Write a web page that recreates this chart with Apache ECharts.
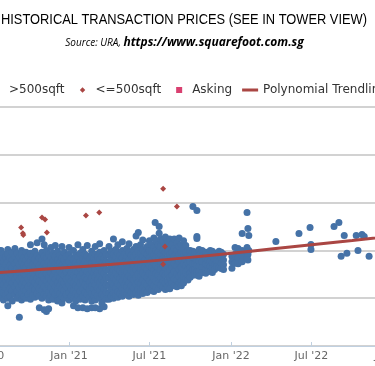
<!DOCTYPE html>
<html><head><meta charset="utf-8">
<script src="https://cdn.jsdelivr.net/npm/echarts@6/dist/echarts.min.js"></script>
<style>html,body{margin:0;padding:0;background:#fff;overflow:hidden}#c{width:375px;height:366px}</style>
</head><body><div id="c"></div><script>
// >500sqft transactions (price psf), grouped by date
const bigDates = [
 '2020-06-01','2020-06-06','2020-06-11','2020-06-16','2020-06-21','2020-06-26',
 '2020-07-01','2020-07-06','2020-07-11','2020-07-16','2020-07-21','2020-07-26',
 '2020-08-01','2020-08-06','2020-08-11','2020-08-16','2020-08-21','2020-08-26',
 '2020-09-01','2020-09-06','2020-09-11','2020-09-16','2020-09-21','2020-09-26',
 '2020-10-01','2020-10-06','2020-10-11','2020-10-16','2020-10-21','2020-10-26',
 '2020-11-01','2020-11-06','2020-11-11','2020-11-16','2020-11-21','2020-11-26',
 '2020-12-01','2020-12-06','2020-12-11','2020-12-16','2020-12-21','2020-12-26',
 '2021-01-01','2021-01-06','2021-01-11','2021-01-16','2021-01-21','2021-01-26',
 '2021-02-01','2021-02-06','2021-02-11','2021-02-16','2021-02-21','2021-02-26',
 '2021-03-01','2021-03-06','2021-03-11','2021-03-16','2021-03-21','2021-03-26',
 '2021-04-01','2021-04-06','2021-04-11','2021-04-16','2021-04-21','2021-04-26',
 '2021-05-01','2021-05-06','2021-05-11','2021-05-16','2021-05-21','2021-05-26',
 '2021-06-01','2021-06-06','2021-06-11','2021-06-16','2021-06-21','2021-06-26',
 '2021-07-01','2021-07-06','2021-07-11','2021-07-14','2021-07-16','2021-07-21',
 '2021-07-23','2021-07-26','2021-08-01','2021-08-06','2021-08-11','2021-08-16',
 '2021-08-21','2021-08-26','2021-09-01','2021-09-06','2021-09-11','2021-09-16',
 '2021-09-21','2021-09-26','2021-10-01','2021-10-07','2021-10-11','2021-10-16',
 '2021-10-21','2021-10-28','2021-11-05','2021-11-10','2021-11-15','2021-11-20',
 '2021-11-25','2021-11-30','2021-12-05','2021-12-10','2021-12-15','2022-01-03',
 '2022-01-10','2022-01-17','2022-01-26','2022-02-06','2022-02-08','2022-02-10',
 '2022-04-12','2022-06-03','2022-06-28','2022-06-30','2022-08-21','2022-09-01',
 '2022-09-06','2022-09-13','2022-09-19','2022-10-10','2022-10-14','2022-10-23',
 '2022-10-28','2022-11-08'
];
const bigPrices = [
 [930,850,770,690,610,540],[890,810,730,650,570],[960,870,790,710,630,560,480],
 [920,840,760,680,600,520],[950,880,800,720,640,560],[910,830,750,670,590,510],
 [970,890,810,730,650,570,450],[1020,930,850,770,690,610,530],[960,880,800,720,640,560,490],
 [920,840,760,680,600,520],[990,900,820,740,660,580,430],[940,860,780,700,620,540],
 [1000,920,840,760,680,600,520],[960,880,800,720,640,560,480],[930,850,770,690,610,530],
 [1010,960,880,800,720,640,560,500,420],[920,840,760,680,600,520],[980,900,820,740,660,580,470],
 [1020,940,860,780,700,620,540],[970,890,810,730,650,570,500],[930,850,770,690,610,530,300],
 [1000,960,880,800,720,640,560,480],[920,840,760,680,600,520],[980,900,820,740,660,580,500],
 [940,860,780,700,620,540],[1060,970,890,810,730,650,570,490],[930,850,770,690,610,530],
 [990,910,830,750,670,590,510],[1080,950,870,790,710,630,550],[920,840,760,680,600,520,400],
 [1120,980,900,820,740,660,580,500],[1060,940,860,780,700,620,540,380],[1000,920,840,760,680,600,520,360],
 [960,880,800,720,640,560,480,390],[1030,930,850,770,690,610,530],[970,890,810,730,650,570,490],
 [1050,940,860,780,700,620,540],[990,900,820,740,660,580,500,470],[950,870,790,710,630,550,480],
 [1040,920,840,760,680,600,520,450],[980,900,820,740,660,580,500],[940,860,780,700,620,540],
 [1030,960,880,800,720,640,560,480],[920,840,760,680,600,520],[1000,900,820,740,660,580,500,420],
 [950,870,790,710,630,550,470],[1060,930,850,770,690,610,530,400],[970,890,810,730,650,570,490],
 [1010,920,840,760,680,600,520,400],[960,880,800,720,640,560,480],[1050,940,860,780,700,620,540,390],
 [910,830,750,670,590,510],[990,950,870,790,710,630,550,470,400],[920,840,760,680,600,520],
 [1040,960,880,800,720,640,560,480,400],[930,850,770,690,610,530],[1070,980,900,820,740,660,580,500,390],
 [940,860,780,700,620,540,450],[1000,920,840,760,680,600,520,410],[960,880,800,720,640,560,490],
 [1040,950,870,790,710,630,550,490],[990,910,830,750,670,590,520],[1120,960,880,800,720,640,560,500],
 [1010,930,850,770,690,610,530],[1060,970,890,810,730,650,570,510],[950,870,790,710,630,550],
 [1090,1000,920,840,760,680,600,520],[960,880,800,720,640,560],[1020,940,860,780,700,620,540],
 [1070,980,900,820,740,660,580,520],[950,870,790,710,630,560],[1010,930,850,770,690,610,540],
 [1150,1040,960,880,800,720,640,560],[1188,990,910,830,750,670,590,530],[1060,970,890,810,730,650,570],
 [1110,1010,930,850,770,690,610,550],[980,900,820,740,660,580],[1040,960,880,800,720,640,560],
 [1100,1000,920,840,760,680,600],[1060,980,900,820,740,660,580],[1130,1030,950,870,790,710,630,570],
 [1292],[1100,1000,920,840,760,680,610],[1060,980,900,820,740,660,590],
 [1250,1180],[1120,1040,960,880,800,720,640],[1100,1000,920,840,760,680,610],
 [1140,1060,980,900,820,740,660,590],[1080,1000,920,840,760,680,620],[1120,1040,960,880,800,720,640,600],
 [1060,980,900,820,740,660],[1120,1020,940,860,780,700,630],[1080,1000,920,840,760,690,620],
 [1130,1040,960,880,800,730,660],[1060,980,900,820,750,680,630],[1100,1020,940,860,790,720,660],
 [1050,980,910,840,770,700],[1000,940,870,800,740,690],[1000,940,880,820,760,720],
 [1458,990,930,860,800,740],[980,920,860,800,750],[1417,1146,1125,960,900,840,780,740],
 [1010,950,890,830,780,730],[1000,940,880,820,770],[980,920,860,800,760],
 [960,900,840,790],[1000,940,880,830,780],[990,930,870,810,770],
 [970,910,850,800],[950,890,830],[990,940,880,820],
 [980,920,860,810],[960,900,850,800],[940,880,813],
 [1031,960,900,865],[1021,970,920,860],[1177,1000,940,880],
 [1396,1031,980,920],[1229,958,900],[1156,1000],
 [1094],[1177],[1240],[1063,1010],[1250],[1292],
 [938],[1156],[969],[1156],[1000],[1167],
 [1146],[938]
];
// <=500sqft transactions
const smallDates = ['2020-09-15','2020-09-19','2020-09-20','2020-11-01','2020-11-08','2020-11-12',
 '2021-02-08','2021-03-10','2021-08-01','2021-09-01','2021-08-05','2021-08-01'];
const smallPrices = [1240,1180,1160,1344,1323,1188,1365,1396,1646,1458,1042,854];
// Asking (none shown)
const askingDates = [];
const askingPrices = [];
// Polynomial trendline
const trendDates = ['2020-04-01','2020-10-01','2021-04-01','2021-10-01','2022-04-01','2022-10-01','2023-04-01'];
const trendPrices = [730,790,852,927,1015,1104,1198];
const monthNames = ['Jan','Feb','Mar','Apr','May','Jun','Jul','Aug','Sep','Oct','Nov','Dec'];
const legendNames = ['>500sqft','<=500sqft','Asking','Polynomial Trendline'];
const titleMain = 'HISTORICAL TRANSACTION PRICES (SEE IN ';
const titleLink = 'TOWER VIEW)';
const subSource = 'Source: URA, ';
const subLink = 'https://www.squarefoot.com.sg';

const bigData = [];
bigDates.forEach((d, i) => bigPrices[i].forEach(p => bigData.push([d, p])));
const smallData = smallDates.map((d, i) => [d, smallPrices[i]]);
const askingData = askingDates.map((d, i) => [d, askingPrices[i]]);
const trendData = trendDates.map((d, i) => [d, trendPrices[i]]);

// horizontal squeeze to mimic the narrow title face
const titleFont = "'Liberation Sans', Arial, sans-serif";
const ctx = document.createElement('canvas').getContext('2d');
ctx.font = '15px ' + titleFont;
const titleW = ctx.measureText(titleMain + titleLink).width;
const titleScale = 366 / titleW;

const bbox = 'M0,0h0.01v0.01h-0.01z M15.99,7.99h0.01v0.01h-0.01z ';
const diamondIcon = 'path://' + bbox + 'M8,1.3L10.7,4L8,6.7L5.3,4z';
const squareIcon = 'path://' + bbox + 'M5,1h6v6h-6z';
const lineIcon = 'path://' + bbox + 'M0,2.5h16v3h-16z';

const chart = echarts.init(document.getElementById('c'), null, {renderer: 'canvas'});
chart.setOption({
  animation: false,
  backgroundColor: '#fff',
  graphic: [{
    type: 'text', x: 184, y: 19.5, scaleX: titleScale, scaleY: 1,
    style: {
      text: '{a|' + titleMain + '}{b|' + titleLink + '}',
      align: 'center', verticalAlign: 'middle',
      rich: {
        a: {fontFamily: titleFont, fontSize: 15, color: '#222'},
        b: {fontFamily: titleFont, fontSize: 15, color: '#666'}
      }
    }
  }, {
    type: 'text', x: 184.5, y: 43,
    style: {
      text: '{a|' + subSource + '}{b|' + subLink + '}',
      align: 'center', verticalAlign: 'middle',
      rich: {
        a: {fontFamily: "'Open Sans',sans-serif", fontSize: 10, fontStyle: 'italic', fontWeight: 'normal', color: '#666'},
        b: {fontFamily: "'Open Sans',sans-serif", fontSize: 12, fontStyle: 'italic', fontWeight: 'bold', color: '#2d6cb5'}
      }
    }
  }],
  legend: {
    left: -8, top: 84, width: 800, padding: 0, itemWidth: 16, itemHeight: 8, itemGap: 10,
    textStyle: {fontFamily: 'DejaVu Sans', fontSize: 12, color: '#333'},
    data: [
      {name: legendNames[0], icon: 'circle'},
      {name: legendNames[1], icon: diamondIcon},
      {name: legendNames[2], icon: squareIcon},
      {name: legendNames[3], icon: lineIcon}
    ]
  },
  grid: {left: -53, right: -58, top: 107, bottom: 20, outerBoundsMode: 'none', containLabel: false},
  xAxis: {
    type: 'time', min: '2020-04-01', max: '2023-04-01',
    minInterval: 180 * 86400000, maxInterval: 185 * 86400000,
    axisLine: {lineStyle: {color: '#C0D0E0', width: 1}},
    axisTick: {show: true, inside: true, length: 4, lineStyle: {color: '#C0D0E0'}},
    splitLine: {show: false},
    axisLabel: {
      color: '#666', fontFamily: 'DejaVu Sans', fontSize: 11, margin: 5,
      formatter: v => { const d = new Date(v); return monthNames[d.getMonth()] + " '" + String(d.getFullYear()).slice(2); }
    }
  },
  yAxis: {
    type: 'value', min: 0, max: 2500, interval: 500,
    axisLabel: {show: false}, axisLine: {show: false}, axisTick: {show: false},
    splitLine: {lineStyle: {color: '#d2d2d2', width: 2}}
  },
  series: [
    {name: legendNames[0], type: 'scatter', symbol: 'circle', symbolSize: 7, data: bigData,
     itemStyle: {color: '#4572A7', opacity: 1}, z: 2},
    {name: legendNames[1], type: 'scatter', symbol: 'diamond', symbolSize: 6, data: smallData,
     itemStyle: {color: '#AA4643', opacity: 1}, z: 3},
    {name: legendNames[2], type: 'scatter', symbol: 'rect', symbolSize: 6, data: askingData,
     itemStyle: {color: '#D0104C'}, z: 3},
    {name: legendNames[3], type: 'line', smooth: true, symbol: 'none', data: trendData,
     lineStyle: {color: '#AA4643', width: 3}, itemStyle: {color: '#AA4643'}, z: 4}
  ]
});
</script></body></html>
